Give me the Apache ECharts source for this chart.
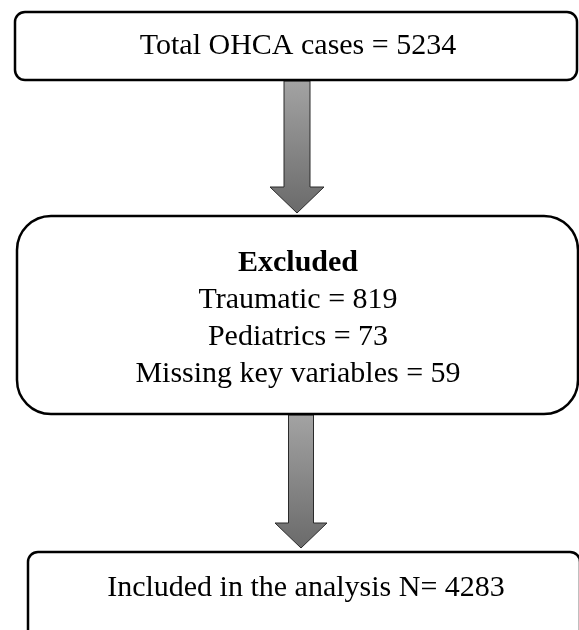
<!DOCTYPE html>
<html>
<head>
<meta charset="utf-8">
<script src="https://cdn.jsdelivr.net/npm/echarts@6/dist/echarts.min.js"></script>
<style>
  html, body { margin: 0; padding: 0; background: #fff; }
  #flow { width: 579px; height: 630px; }
</style>
</head>
<body>
<div id="flow"></div>
<script>
// flow counts
var total_label = 'Total OHCA cases';
var total_cases = 5234;
var excluded_title = 'Excluded';
var excluded_names = ['Traumatic', 'Pediatrics', 'Missing key variables'];
var excluded_counts = [819, 73, 59];
var included_label = 'Included in the analysis N';
var included_cases = 4283;

var dom = document.getElementById('flow');
var flowchart = echarts.init(dom, null, {renderer: 'canvas'});

var font = '"Liberation Serif", "Times New Roman", serif';

function box(x, y, w, h, r) {
    return {
        type: 'rect',
        shape: {x: x, y: y, width: w, height: h, r: r},
        style: {fill: '#fff', stroke: '#000', lineWidth: 2.5}
    };
}

function line_text(txt, cx, cy, bold) {
    return {
        type: 'text',
        x: cx,
        y: cy,
        style: {
            text: txt,
            font: (bold ? 'bold ' : '') + '30px ' + font,
            fill: '#000',
            align: 'center',
            verticalAlign: 'middle'
        }
    };
}

// down arrow: shaft from y0 to y1, head down to y2
function arrow(cx, y0, y1, y2, shaft_w, head_w) {
    var s = shaft_w / 2, h = head_w / 2;
    return {
        type: 'polygon',
        shape: {
            points: [[cx - s, y0], [cx + s, y0], [cx + s, y1], [cx + h, y1],
                [cx, y2], [cx - h, y1], [cx - s, y1]]
        },
        style: {
            fill: new echarts.graphic.LinearGradient(0, 0, 0, 1, [
                {offset: 0, color: '#a3a3a3'},
                {offset: 1, color: '#6a6a6a'}
            ]),
            stroke: '#2a2a2a',
            lineWidth: 1
        }
    };
}

var elements = [];
elements.push(arrow(297, 81, 187, 213, 26, 54));
elements.push(arrow(301, 415, 523, 548, 25, 52));

elements.push(box(15, 12, 562, 68, 10));
elements.push(line_text(total_label + ' = ' + total_cases, 298, 46));

elements.push(box(17, 216, 561, 198, 34));
elements.push(line_text(excluded_title, 298, 263, true));
excluded_names.forEach(function (name, i) {
    elements.push(line_text(name + ' = ' + excluded_counts[i], 298, 300 + i * 37));
});

elements.push(box(28, 552, 552, 100, 10));
elements.push(line_text(included_label + '= ' + included_cases, 306, 588));

var flow_option = {
    backgroundColor: '#fff',
    animation: false,
    graphic: {elements: elements}
};

flowchart.setOption(flow_option);
</script>
</body>
</html>
